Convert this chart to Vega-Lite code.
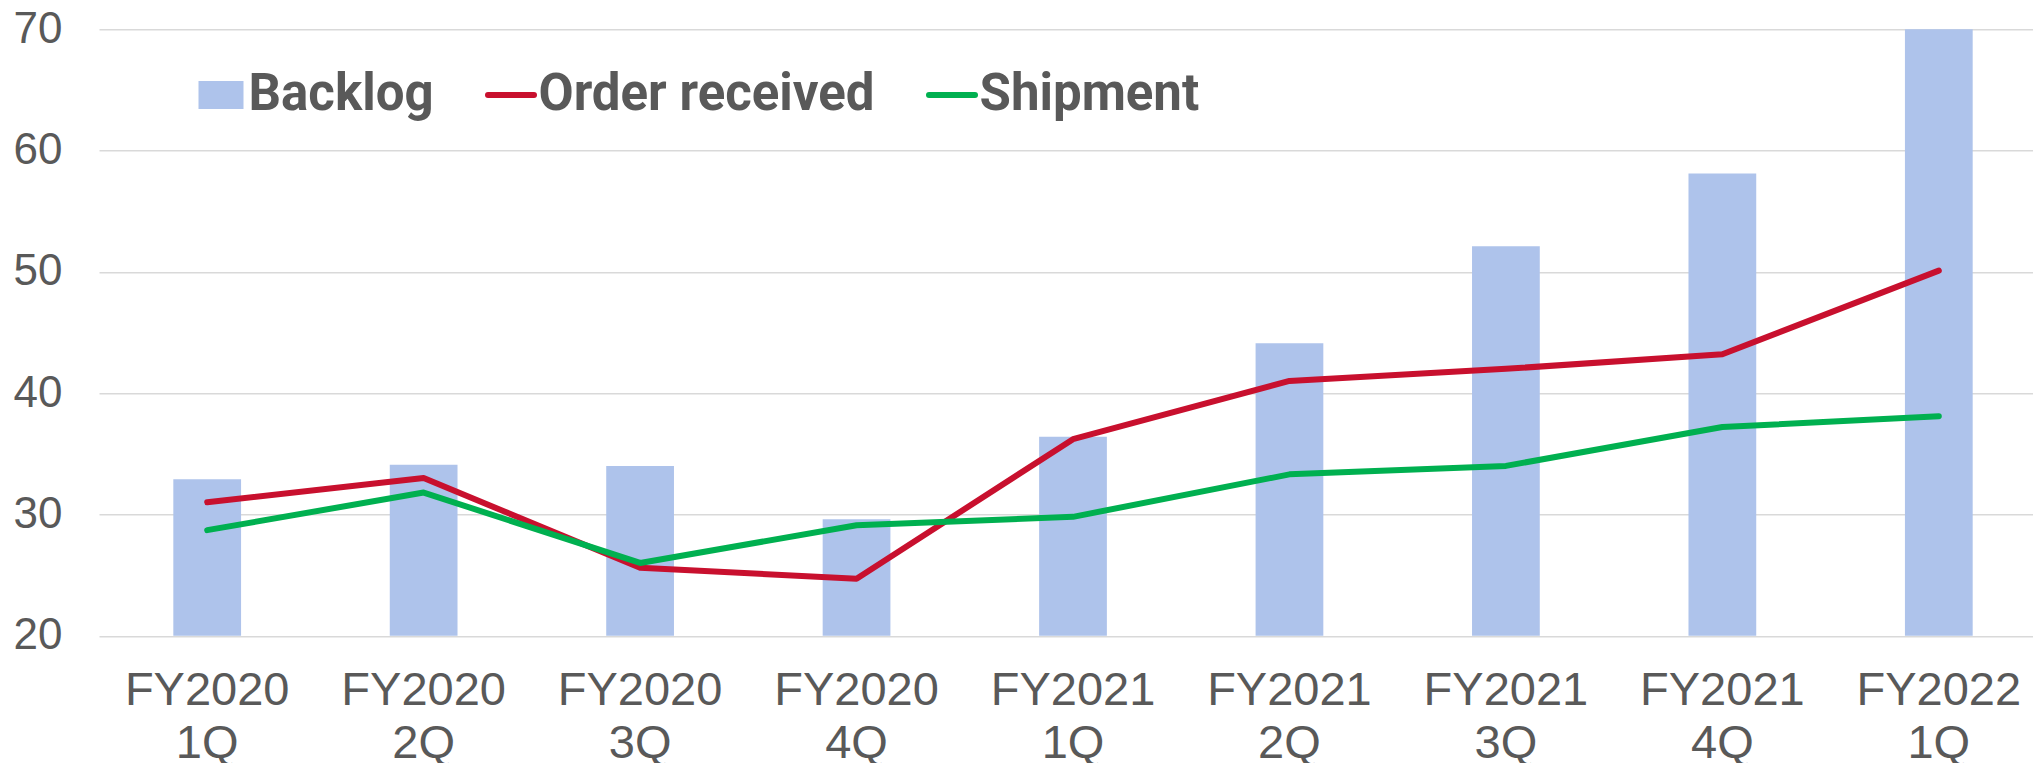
{
  "$schema": "https://vega.github.io/schema/vega-lite/v6.json",
  "width": 1934,
  "height": 606.5,
  "autosize": {"type": "none"},
  "padding": {"left": 99, "top": 29.2, "right": 0, "bottom": 127.3},
  "background": "white",
  "config": {"view": {"stroke": null}},
  "data": {
    "values": [
      {"q": "FY2020 1Q", "series": "Backlog", "value": 32.9},
      {"q": "FY2020 2Q", "series": "Backlog", "value": 34.1},
      {"q": "FY2020 3Q", "series": "Backlog", "value": 34.0},
      {"q": "FY2020 4Q", "series": "Backlog", "value": 29.6},
      {"q": "FY2021 1Q", "series": "Backlog", "value": 36.4},
      {"q": "FY2021 2Q", "series": "Backlog", "value": 44.1},
      {"q": "FY2021 3Q", "series": "Backlog", "value": 52.1},
      {"q": "FY2021 4Q", "series": "Backlog", "value": 58.1},
      {"q": "FY2022 1Q", "series": "Backlog", "value": 70.0},
      {"q": "FY2020 1Q", "series": "Order received", "value": 31.0},
      {"q": "FY2020 2Q", "series": "Order received", "value": 33.0},
      {"q": "FY2020 3Q", "series": "Order received", "value": 25.6},
      {"q": "FY2020 4Q", "series": "Order received", "value": 24.7},
      {"q": "FY2021 1Q", "series": "Order received", "value": 36.2},
      {"q": "FY2021 2Q", "series": "Order received", "value": 41.0},
      {"q": "FY2021 3Q", "series": "Order received", "value": 42.0},
      {"q": "FY2021 4Q", "series": "Order received", "value": 43.2},
      {"q": "FY2022 1Q", "series": "Order received", "value": 50.1},
      {"q": "FY2020 1Q", "series": "Shipment", "value": 28.7},
      {"q": "FY2020 2Q", "series": "Shipment", "value": 31.8},
      {"q": "FY2020 3Q", "series": "Shipment", "value": 26.0},
      {"q": "FY2020 4Q", "series": "Shipment", "value": 29.1},
      {"q": "FY2021 1Q", "series": "Shipment", "value": 29.8},
      {"q": "FY2021 2Q", "series": "Shipment", "value": 33.3},
      {"q": "FY2021 3Q", "series": "Shipment", "value": 34.0},
      {"q": "FY2021 4Q", "series": "Shipment", "value": 37.2},
      {"q": "FY2022 1Q", "series": "Shipment", "value": 38.1}
    ]
  },
  "encoding": {
    "x": {
      "field": "q",
      "type": "ordinal",
      "sort": null,
      "scale": {"type": "band", "paddingInner": 0.687, "paddingOuter": 0.311, "align": 0.552, "round": false},
      "axis": {
        "title": null,
        "domain": false,
        "ticks": false,
        "tickSize": 0,
        "grid": false,
        "labelAngle": 0,
        "labelPadding": 69,
        "labelFont": "Liberation Sans",
        "labelFontSize": 47,
        "labelColor": "#595959",
        "labelBaseline": "alphabetic",
        "labelLineHeight": 53,
        "labelOverlap": false,
        "labelBound": false,
        "labelFlush": false,
        "labelExpr": "split(datum.label, ' ')"
      }
    },
    "y": {
      "field": "value",
      "type": "quantitative",
      "scale": {"domain": [20, 70], "nice": false, "zero": false},
      "axis": {
        "title": null,
        "values": [20, 30, 40, 50, 60, 70],
        "domain": false,
        "ticks": false,
        "tickSize": 0,
        "grid": true,
        "gridColor": "#D9D9D9",
        "gridWidth": 1.6,
        "labelPadding": 37,
        "labelFont": "Liberation Sans",
        "labelFontSize": 44,
        "labelColor": "#595959"
      }
    },
    "color": {
      "field": "series",
      "type": "nominal",
      "scale": {"domain": ["Backlog", "Order received", "Shipment"], "range": ["#AEC3EB", "#C8102E", "#00B050"]},
      "legend": {
        "orient": "none",
        "legendX": 96.5,
        "legendY": 40,
        "direction": "horizontal",
        "title": null,
        "padding": 0,
        "columnPadding": 41,
        "labelFont": "Roboto",
        "labelFontWeight": "bold",
        "labelFontSize": 51,
        "labelColor": "#595959",
        "labelOffset": 2,
        "labelLimit": 0,
        "symbolSize": 2704,
        "symbolStrokeWidth": 6,
        "encode": {
          "symbols": {
            "update": {
              "shape": {"signal": "datum.value === 'Backlog' ? 'M-1,-0.62H1V0.62H-1Z' : 'stroke'"},
              "size": {"signal": "datum.value === 'Backlog' ? 2025 : 2116"},
              "fill": {"signal": "datum.value === 'Backlog' ? '#AEC3EB' : 'transparent'"},
              "stroke": {"signal": "datum.value === 'Order received' ? '#C8102E' : (datum.value === 'Shipment' ? '#00B050' : 'transparent')"},
              "strokeWidth": {"signal": "datum.value === 'Backlog' ? 0 : 6"},
              "strokeCap": {"value": "round"},
              "opacity": {"value": 1},
              "fillOpacity": {"value": 1},
              "strokeOpacity": {"value": 1}
            }
          }
        }
      }
    }
  },
  "layer": [
    {
      "transform": [{"filter": "datum.series === 'Backlog'"}],
      "mark": {"type": "bar"},
      "encoding": {"y2": {"datum": 20}}
    },
    {
      "transform": [{"filter": "datum.series === 'Order received'"}],
      "mark": {"type": "line", "strokeWidth": 6, "strokeCap": "round", "strokeJoin": "round"}
    },
    {
      "transform": [{"filter": "datum.series === 'Shipment'"}],
      "mark": {"type": "line", "strokeWidth": 6, "strokeCap": "round", "strokeJoin": "round"}
    }
  ]
}
